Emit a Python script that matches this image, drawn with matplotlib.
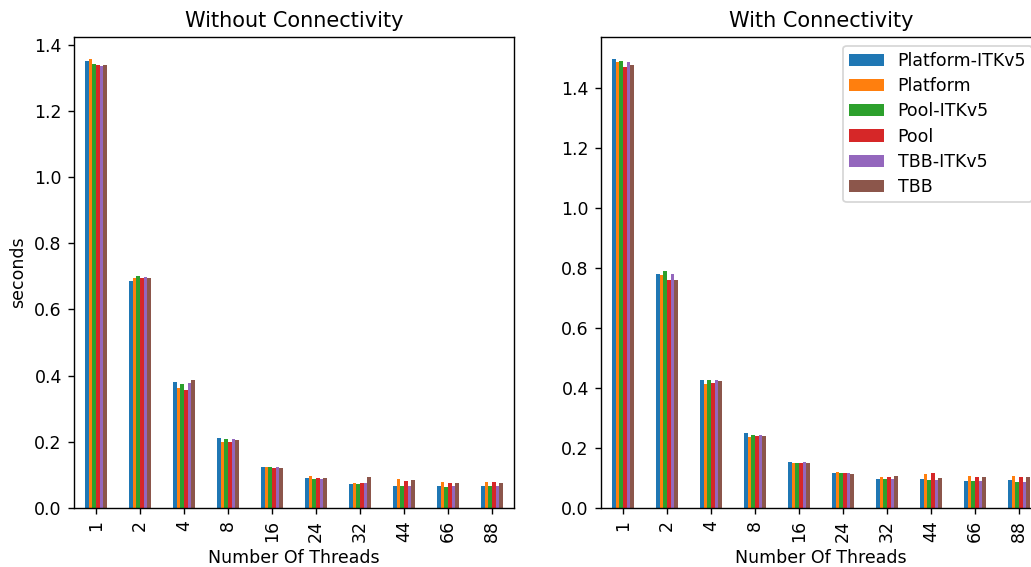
import numpy as np
import matplotlib
matplotlib.use("Agg")
import matplotlib.pyplot as plt

threads = ["1", "2", "4", "8", "16", "24", "32", "44", "66", "88"]
series = ["Platform-ITKv5", "Platform", "Pool-ITKv5", "Pool", "TBB-ITKv5", "TBB"]
colors = ["#1f77b4", "#ff7f0e", "#2ca02c", "#d62728", "#9467bd", "#8c564b"]

without_conn = {
    "Platform-ITKv5": [1.349, 0.686, 0.381, 0.211, 0.123, 0.090, 0.072, 0.066, 0.066, 0.066],
    "Platform":       [1.355, 0.695, 0.363, 0.199, 0.123, 0.096, 0.075, 0.087, 0.078, 0.078],
    "Pool-ITKv5":     [1.341, 0.701, 0.375, 0.208, 0.123, 0.087, 0.072, 0.066, 0.063, 0.066],
    "Pool":           [1.337, 0.695, 0.357, 0.199, 0.120, 0.090, 0.075, 0.081, 0.075, 0.078],
    "TBB-ITKv5":      [1.335, 0.698, 0.378, 0.208, 0.123, 0.087, 0.075, 0.066, 0.066, 0.066],
    "TBB":            [1.337, 0.695, 0.387, 0.205, 0.120, 0.090, 0.093, 0.084, 0.075, 0.075],
}
with_conn = {
    "Platform-ITKv5": [1.496, 0.782, 0.426, 0.249, 0.152, 0.116, 0.096, 0.096, 0.089, 0.092],
    "Platform":       [1.489, 0.776, 0.412, 0.236, 0.149, 0.119, 0.102, 0.112, 0.106, 0.106],
    "Pool-ITKv5":     [1.492, 0.792, 0.426, 0.242, 0.149, 0.116, 0.096, 0.092, 0.089, 0.086],
    "Pool":           [1.472, 0.762, 0.416, 0.239, 0.149, 0.116, 0.102, 0.116, 0.102, 0.102],
    "TBB-ITKv5":      [1.489, 0.779, 0.426, 0.242, 0.152, 0.116, 0.096, 0.092, 0.089, 0.086],
    "TBB":            [1.476, 0.759, 0.422, 0.239, 0.149, 0.112, 0.106, 0.099, 0.102, 0.102],
}

DPI = 125
fig = plt.figure(figsize=(1031 / DPI, 567 / DPI), dpi=DPI)
ax1 = fig.add_axes([74/1031, 1-508/567, 440/1031, (508-37)/567])
ax2 = fig.add_axes([601/1031, 1-508/567, 440/1031, (508-37)/567])

def draw(ax, data, title):
    x = np.arange(len(threads))
    n = len(series)
    w = 0.5 / n
    for i, s in enumerate(series):
        ax.bar(x - 0.25 + w * (i + 0.5), data[s], width=w, color=colors[i], label=s)
    ax.set_xticks(x)
    ax.set_xticklabels(threads, rotation=90)
    ax.set_xlim(-0.5, len(threads) - 0.5)
    ymax = max(max(v) for v in data.values())
    ax.set_ylim(0, ymax * 1.05)
    ax.set_title(title)
    ax.set_xlabel("Number Of Threads")

draw(ax1, without_conn, "Without Connectivity")
ax1.set_yticks([0.0, 0.2, 0.4, 0.6, 0.8, 1.0, 1.2, 1.4])
ax1.set_ylabel("seconds")
draw(ax2, with_conn, "With Connectivity")
ax2.set_yticks([0.0, 0.2, 0.4, 0.6, 0.8, 1.0, 1.2, 1.4])
ax2.legend(loc="upper right", labelspacing=0.42, borderpad=0.35)

fig.savefig("out.png", dpi=DPI)
